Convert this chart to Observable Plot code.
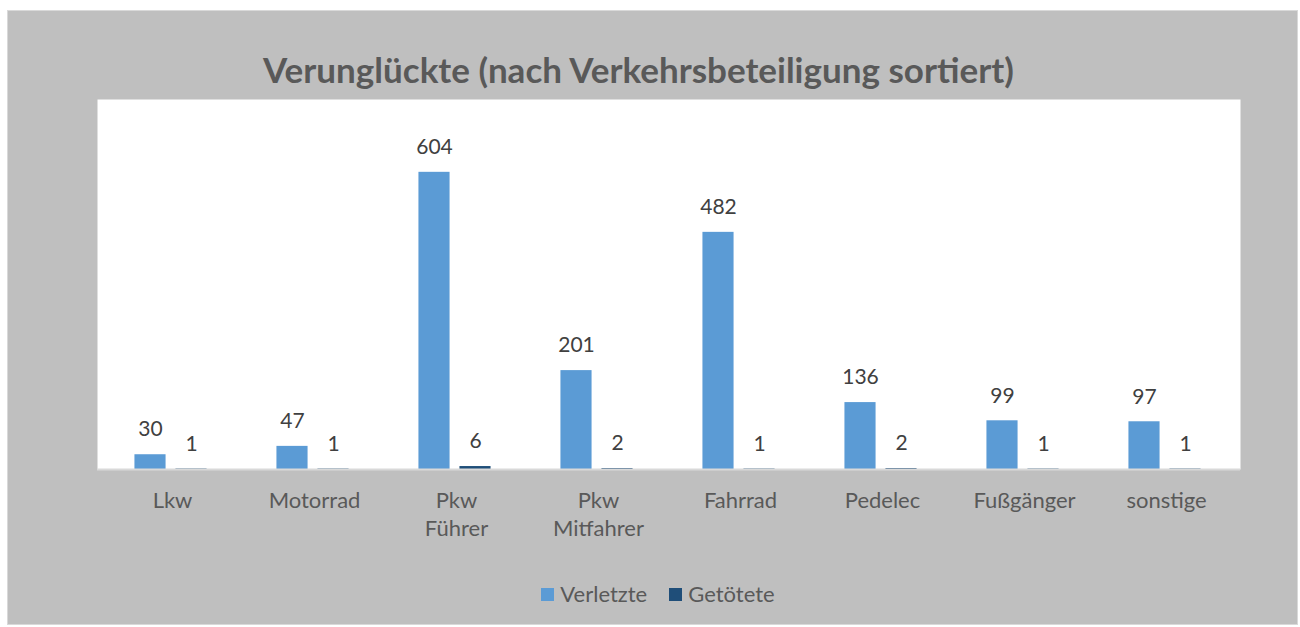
<!DOCTYPE html>
<html>
<head>
<meta charset="utf-8">
<script src="https://cdn.jsdelivr.net/npm/d3@7"></script>
<script src="https://cdn.jsdelivr.net/npm/@observablehq/plot@0.6"></script>
<style>
  html, body { margin: 0; padding: 0; background: #ffffff; }
  #page { position: relative; width: 1300px; height: 627px; overflow: hidden; font-family: Lato, "Open Sans", sans-serif; }
  #bg { position: absolute; left: 7px; top: 10px; width: 1289px; height: 613px; background: #bfbfbf; border: 1px solid #d9d9d9; }
  #title { position: absolute; left: 0; top: 46px; width: 1277px; text-align: center; font-size: 35px; line-height: 46px; font-weight: bold; color: #595959; }
  #chart { position: absolute; left: 0; top: 99px; }
  #legend { position: absolute; left: 0; top: 580px; width: 1316px; display: flex; justify-content: center; align-items: center; font-size: 22px; line-height: 28px; color: #595959; }
  .sw { display: inline-block; width: 13px; height: 13px; margin-right: 6px; }
  .item { display: flex; align-items: center; margin: 0 11px; }
</style>
</head>
<body>
<div id="page">
  <div id="bg"></div>
  <div id="title">Verunglückte (nach Verkehrsbeteiligung sortiert)</div>
  <div id="chart"></div>
  <div id="legend"></div>
</div>
<script>
const categories = ["Lkw", "Motorrad", "Pkw\nFührer", "Pkw\nMitfahrer", "Fahrrad", "Pedelec", "Fußgänger", "sonstige"];
const verletzte = [30, 47, 604, 201, 482, 136, 99, 97];
const getoetete = [1, 1, 6, 2, 1, 2, 1, 1];
const seriesNames = ["Verletzte", "Getötete"];
const seriesColors = ["#5b9bd5", "#1f4e79"];

const dataV = categories.map((c, i) => ({cat: c, value: verletzte[i]}));
const dataG = categories.map((c, i) => ({cat: c, value: getoetete[i]}));

const W = 1300, ML = 97, MR = 60;
const band = (W - ML - MR) / categories.length;
const barW = 32, off = 20.5, shift = -1.5;
const inset = (band - barW) / 2;

const plot = Plot.plot({
  width: W,
  height: 450,
  marginLeft: ML,
  marginRight: MR,
  marginTop: 0,
  marginBottom: 80,
  style: {background: "transparent", color: "#595959", fontFamily: "Lato, 'Open Sans', sans-serif"},
  x: {domain: categories, padding: 0, label: null},
  y: {domain: [0, 752], axis: null},
  marks: [
    Plot.frame({fill: "#ffffff", stroke: null}),
    Plot.barY(dataV, {x: "cat", y: "value", fill: seriesColors[0], insetLeft: inset, insetRight: inset, dx: -off + shift}),
    Plot.barY(dataG, {x: "cat", y: "value", fill: seriesColors[1], insetLeft: inset, insetRight: inset, dx: off + shift}),
    Plot.ruleY([0], {stroke: "#d9d9d9", strokeWidth: 2}),
    Plot.text(dataV, {x: "cat", y: "value", text: d => String(d.value), dx: -off + shift, dy: -25, lineAnchor: "middle", fill: "#404040", fontSize: 21}),
    Plot.text(dataG, {x: "cat", y: "value", text: d => String(d.value), dx: off + shift, dy: -25, lineAnchor: "middle", fill: "#404040", fontSize: 21}),
    Plot.axisX({tickSize: 0, tickPadding: 19, fontSize: 22, lineHeight: 1.27, label: null})
  ]
});
document.getElementById("chart").appendChild(plot);

const legend = document.getElementById("legend");
seriesNames.forEach((n, i) => {
  const item = document.createElement("div");
  item.className = "item";
  const sw = document.createElement("span");
  sw.className = "sw";
  sw.style.background = seriesColors[i];
  item.appendChild(sw);
  item.appendChild(document.createTextNode(n));
  legend.appendChild(item);
});
</script>
</body>
</html>
